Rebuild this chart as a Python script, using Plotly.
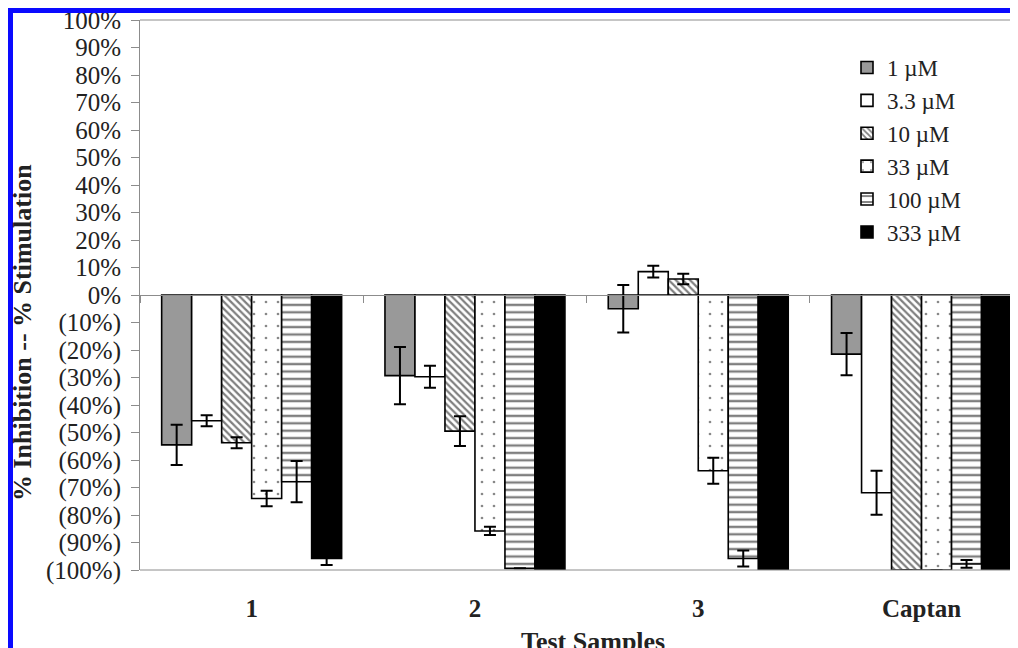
import plotly.graph_objects as go

# ---------------- data ----------------
categories = ["1", "2", "3", "Captan"]
series_names = ["1 µM", "3.3 µM", "10 µM", "33 µM", "100 µM", "333 µM"]

v_1 = [-54.5, -29.3, -5.0, -21.5]
v_3_3 = [-45.7, -29.7, 8.5, -71.9]
v_10 = [-53.7, -49.5, 5.8, -100.0]
v_33 = [-74.0, -85.8, -63.9, -100.0]
v_100 = [-67.9, -99.4, -95.8, -97.8]
v_333 = [-95.8, -100.0, -100.0, -100.0]

e_1 = [7.3, 10.4, 8.6, 7.7]
e_3_3 = [2.0, 4.0, 2.1, 8.0]
e_10 = [2.0, 5.4, 1.9, 0.0]
e_33 = [2.8, 1.5, 4.7, 0.0]
e_100 = [7.5, 0.0, 2.9, 1.4]
e_333 = [2.4, 0.0, 0.0, 0.0]

y_tick_values = [-100, -90, -80, -70, -60, -50, -40, -30, -20, -10, 0,
                 10, 20, 30, 40, 50, 60, 70, 80, 90, 100]
y_tick_labels = ["(100%)", "(90%)", "(80%)", "(70%)", "(60%)", "(50%)", "(40%)",
                 "(30%)", "(20%)", "(10%)", "0%", "10%", "20%", "30%", "40%",
                 "50%", "60%", "70%", "80%", "90%", "100%"]

values = [v_1, v_3_3, v_10, v_33, v_100, v_333]
errors = [e_1, e_3_3, e_10, e_33, e_100, e_333]

# ---------------- styles ----------------
SERIF = "Liberation Serif, Times New Roman, serif"
styles = [
    dict(color="#999999"),
    dict(color="white"),
    dict(color="white", pattern=dict(shape="\\", size=5, solidity=0.45,
                                     fgcolor="black", bgcolor="white")),
    dict(color="white", pattern=dict(shape=".", size=12, solidity=0.04,
                                     fgcolor="#111111", bgcolor="white")),
    dict(color="white", pattern=dict(shape="-", size=7.4, solidity=0.32,
                                     fgcolor="black", bgcolor="white")),
    dict(color="black"),
]

W, H = 1018, 648
ML, MR, MT, MB = 132, 0, 12, 86
PW, PH = W - ML - MR, H - MT - MB
OFF = 8  # page offset of the figure (body margin)


def px_x(p):  # page pixel -> paper x
    return (p - OFF - ML) / PW


def px_y(p):  # page pixel -> paper y
    return (H - MB - (p - OFF)) / PH


fig = go.Figure()
for name, vals, errs, st in zip(series_names, values, errors, styles):
    marker = dict(line=dict(color="black", width=1.6), **st)
    fig.add_trace(go.Bar(
        x=categories, y=vals, name=name, marker=marker,
        error_y=dict(type="data", array=errs, visible=True,
                     color="black", thickness=2, width=6),
    ))

cat_w = 223.3
fig.update_layout(
    width=W, height=H,
    margin=dict(l=ML, r=MR, t=MT, b=MB),
    paper_bgcolor="white", plot_bgcolor="white",
    barmode="group", bargap=0.194, bargroupgap=0,
    showlegend=True,
    legend=dict(x=px_x(847), y=px_y(46), xanchor="left", yanchor="top",
                bgcolor="rgba(0,0,0,0)", traceorder="normal",
                font=dict(family=SERIF, size=23, color="#222222")),
    xaxis=dict(
        type="category", range=[-0.5, -0.5 + PW / cat_w],
        anchor="free", position=0.5,
        showline=True, linecolor="#8c8c8c", linewidth=1,
        tickson="boundaries", ticks="outside", ticklen=7, tickcolor="#8c8c8c",
        showgrid=False, zeroline=False,
        tickfont=dict(family=SERIF, size=25, color="#222222", weight="bold"),
        ticklabelstandoff=291,
    ),
    yaxis=dict(
        range=[-100, 100], tickvals=y_tick_values, ticktext=y_tick_labels,
        showline=True, linecolor="#8c8c8c", linewidth=1,
        ticks="outside", ticklen=8, tickcolor="#8c8c8c",
        showgrid=False, zeroline=False,
        tickfont=dict(family=SERIF, size=25, color="#222222"),
        ticklabelstandoff=5, ticklabeloverflow="allow",
    ),
)

# plot-area frame (top and bottom edges)
fig.add_shape(type="line", xref="paper", yref="paper", x0=0, x1=1.2, y0=1, y1=1,
              line=dict(color="#8c8c8c", width=1))
fig.add_shape(type="line", xref="paper", yref="paper", x0=0, x1=1.2, y0=0, y1=0,
              line=dict(color="#8c8c8c", width=1))

# blue frame around the figure (left and top edges)
fig.add_shape(type="rect", xref="paper", yref="paper",
              x0=px_x(8), x1=px_x(13), y0=px_y(700), y1=px_y(8),
              fillcolor="#0a0aff", line=dict(width=0), layer="above")
fig.add_shape(type="rect", xref="paper", yref="paper",
              x0=px_x(8), x1=px_x(1100), y0=px_y(13), y1=px_y(8),
              fillcolor="#0a0aff", line=dict(width=0), layer="above")

fig.add_annotation(text="<b>% Inhibition -- % Stimulation</b>", xref="paper", yref="paper",
                   x=px_x(22), y=px_y(333), textangle=-90, showarrow=False,
                   xanchor="center", yanchor="middle",
                   font=dict(family=SERIF, size=26, color="#222222"))
fig.add_annotation(text="<b>Test Samples</b>", xref="paper", yref="paper",
                   x=px_x(593), y=px_y(641), showarrow=False,
                   xanchor="center", yanchor="middle",
                   font=dict(family=SERIF, size=26, color="#222222"))

fig.write_html("out.html")
